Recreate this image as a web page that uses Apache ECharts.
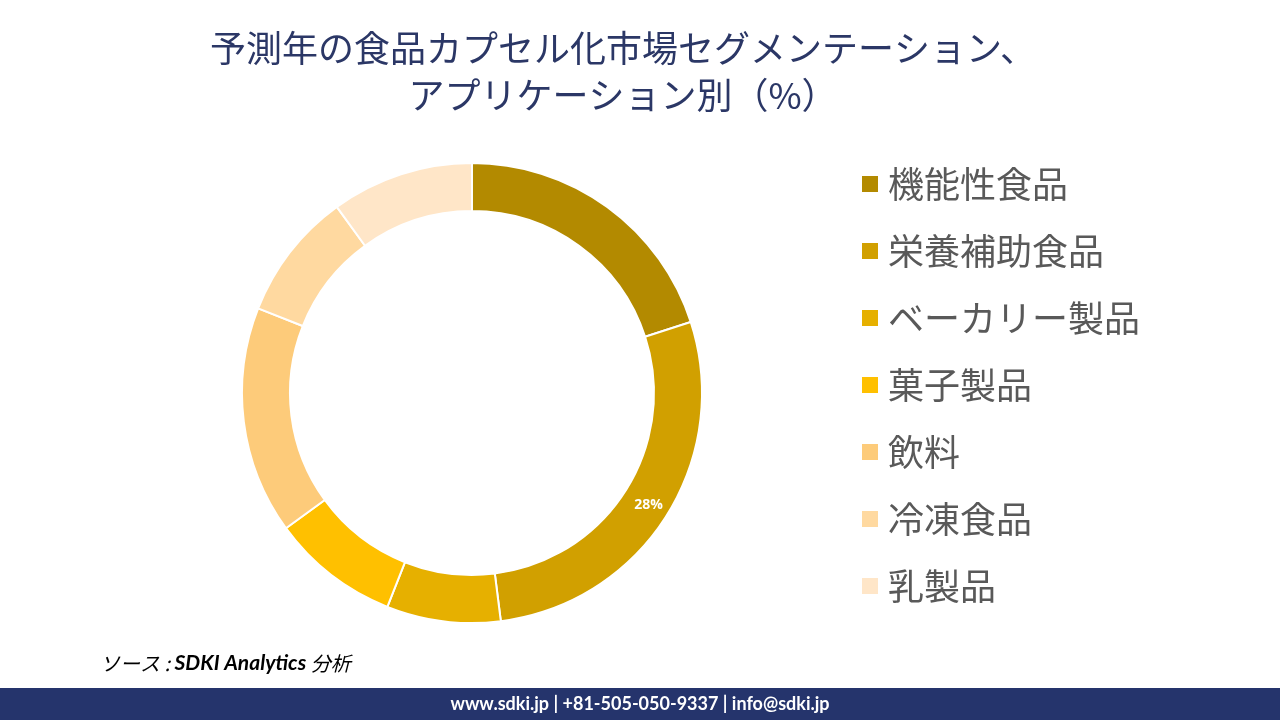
<!DOCTYPE html>
<html>
<head>
<meta charset="utf-8">
<script src="https://cdn.jsdelivr.net/npm/echarts@6/dist/echarts.min.js"></script>
<style>
  html, body { margin: 0; padding: 0; background: #fff; }
  #chart { width: 1280px; height: 720px; }
</style>
</head>
<body>
<div id="chart"></div>
<script>
// segment names and shares (%)
const categories = ['機能性食品', '栄養補助食品', 'ベーカリー製品', '菓子製品', '飲料', '冷凍食品', '乳製品']
const shares = [20, 28, 8, 9, 16, 9, 10]
const colors = ['#B38A00', '#D1A000', '#E6B000', '#FFC000', '#FDCB7A', '#FFD9A0', '#FFE6C8']
// only this slice carries a label in the original
const labelled = ['栄養補助食品']

const chart = echarts.init(document.getElementById('chart'))

const jpFont = '"Noto Sans CJK JP", "Noto Sans", sans-serif'

chart.setOption({
  animation: false,
  title: {
    text: '予測年の食品カプセル化市場セグメンテーション、\nアプリケーション別（%）',
    left: 618,
    top: 20,
    textAlign: 'center',
    textStyle: {
      fontFamily: jpFont,
      fontSize: 36,
      fontWeight: 'normal',
      color: '#2B3766',
      lineHeight: 47
    }
  },
  legend: {
    orient: 'vertical',
    left: 860,
    top: 164,
    padding: 0,
    itemWidth: 18,
    itemHeight: 18,
    itemGap: 27,
    icon: 'rect',
    data: categories,
    textStyle: {
      fontFamily: jpFont,
      fontSize: 36,
      color: '#595959',
      lineHeight: 40,
      padding: [0, 0, 0, 4]
    }
  },
  graphic: [
    {
      type: 'rect',
      left: 0,
      top: 688,
      shape: { width: 1280, height: 32 },
      style: { fill: '#25346C' }
    },
    {
      type: 'text',
      x: 640,
      y: 704,
      style: {
        text: 'www.sdki.jp | +81-505-050-9337 | info@sdki.jp',
        fill: '#fff',
        font: 'bold 18px Lato, "Open Sans", sans-serif',
        align: 'center',
        verticalAlign: 'middle'
      }
    },
    {
      type: 'text',
      x: 100,
      y: 663,
      style: {
        text: '{a|ソース : }{b|SDKI Analytics }{a|分析}',
        verticalAlign: 'middle',
        rich: {
          a: { fontFamily: jpFont, fontSize: 20, fontStyle: 'italic', color: '#000' },
          b: { fontFamily: 'Lato, sans-serif', fontSize: 21, fontStyle: 'italic', fontWeight: 'bold', color: '#000' }
        }
      }
    }
  ],
  series: [
    {
      type: 'pie',
      center: [472, 393],
      radius: [182, 230],
      startAngle: 90,
      clockwise: true,
      avoidLabelOverlap: false,
      itemStyle: {
        borderColor: '#fff',
        borderWidth: 2
      },
      label: {
        show: true,
        position: 'inside',
        formatter: p => labelled.includes(p.name) ? p.value + '%' : '',
        color: '#fff',
        fontFamily: '"Open Sans", sans-serif',
        fontWeight: 'bold',
        fontSize: 14
      },
      labelLine: { show: false },
      emphasis: { disabled: true },
      data: categories.map((name, i) => ({
        name,
        value: shares[i],
        itemStyle: { color: colors[i] }
      }))
    }
  ]
})
</script>
</body>
</html>
